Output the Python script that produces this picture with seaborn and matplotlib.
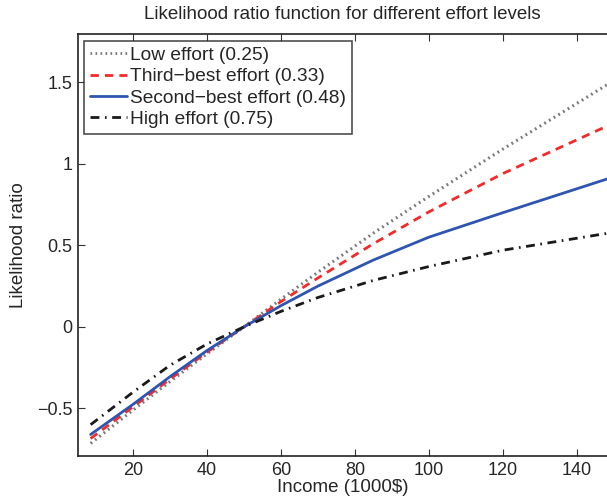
import numpy as np
import pandas as pd
import seaborn as sns
import matplotlib
matplotlib.use("Agg")
import matplotlib.pyplot as plt

# Income grid (1000$) and likelihood ratio
income = [8.5, 20, 30, 40, 50, 60, 70, 85, 100, 120, 150]
low_effort = [-0.715, -0.51, -0.335, -0.165, 0.0, 0.17, 0.335, 0.575, 0.80, 1.09, 1.51]
third_best = [-0.685, -0.49, -0.32, -0.155, 0.0, 0.155, 0.30, 0.51, 0.705, 0.94, 1.25]
second_best = [-0.66, -0.475, -0.305, -0.145, 0.0, 0.13, 0.25, 0.41, 0.55, 0.70, 0.92]
high_effort = [-0.60, -0.40, -0.235, -0.105, 0.0, 0.095, 0.18, 0.285, 0.37, 0.47, 0.58]

labels = [
    "Low effort (0.25)",
    "Third\u2212best effort (0.33)",
    "Second\u2212best effort (0.48)",
    "High effort (0.75)",
]
x_ticks = [20, 40, 60, 80, 100, 120, 140]
y_ticks = [-0.5, 0, 0.5, 1, 1.5]
y_tick_labels = ["\u22120.5", "0", "0.5", "1", "1.5"]


def build_frame():
    frames = []
    for name, vals in zip(labels, [low_effort, third_best, second_best, high_effort]):
        frames.append(pd.DataFrame({"Income": income, "Ratio": vals, "Effort": name}))
    return pd.concat(frames, ignore_index=True)


def main():
    df = build_frame()
    sns.set_style("white")
    plt.rcParams["font.family"] = ["Liberation Sans", "DejaVu Sans"]
    plt.rcParams["xtick.direction"] = "in"
    plt.rcParams["ytick.direction"] = "in"

    fig = plt.figure(figsize=(6.07, 5.03), dpi=100)
    ax = fig.add_axes([0.128, 0.0925, 0.872, 0.8395])

    palette = dict(zip(labels, ["#7a7a7a", "#f22a2a", "#2f55b0", "#1a1a1a"]))
    dashes = dict(zip(labels, [(0.6, 1.2), (3.0, 2.2), "", (3.2, 2.0, 0.6, 2.0)]))
    sns.lineplot(
        data=df, x="Income", y="Ratio", hue="Effort", style="Effort",
        palette=palette, dashes=dashes, linewidth=2, ax=ax, legend=True,
    )
    for line, lab in zip(ax.lines, labels):
        if lab.startswith("Low"):
            line.set_linewidth(2.2)

    ax.set_xlim(5, 148.2)
    ax.set_ylim(-0.795, 1.795)
    ax.set_xticks(x_ticks)
    ax.set_yticks(y_ticks)
    ax.set_yticklabels(y_tick_labels)
    ax.tick_params(axis="both", labelsize=13, length=5, width=0.8, color="#333333",
                   bottom=True, left=True, top=True, right=False, pad=4)
    for side in ["left", "bottom", "top"]:
        ax.spines[side].set_linewidth(1.2)
        ax.spines[side].set_color("#222222")
    ax.spines["right"].set_visible(False)

    ax.set_xlabel("Income (1000$)", fontsize=13.5, labelpad=0)
    ax.set_ylabel("Likelihood ratio", fontsize=13.5, labelpad=7)
    ax.set_title("Likelihood ratio function for different effort levels", fontsize=13.5, pad=11)

    leg = ax.legend(
        loc="upper left", fontsize=13.8, frameon=True, fancybox=False,
        edgecolor="#222222", handlelength=1.9, handletextpad=0.2,
        borderpad=0.3, labelspacing=0.2, borderaxespad=0.35,
    )
    leg.get_frame().set_linewidth(1.2)
    for h in leg.get_lines():
        h.set_linewidth(2)

    fig.savefig("out.png", dpi=100)


if __name__ == "__main__":
    main()
